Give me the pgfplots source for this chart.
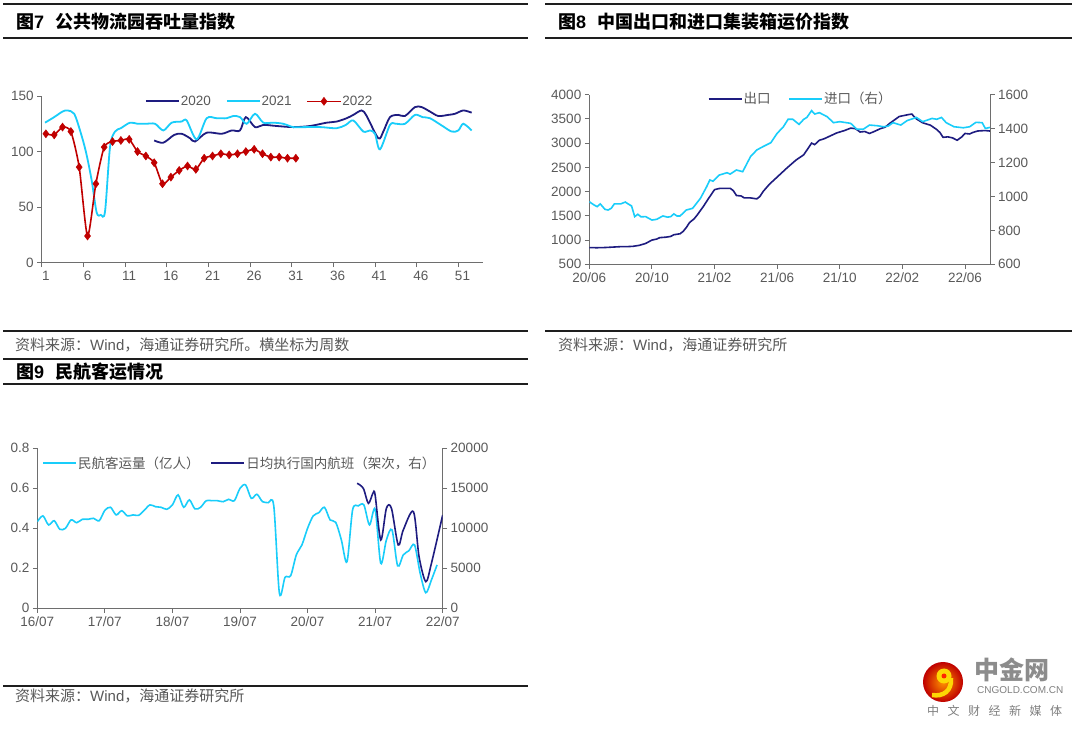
\documentclass[border=0pt]{standalone}
\usepackage{fontspec}
\setmainfont{Liberation Sans}
\newfontfamily\cjk{Noto Sans CJK SC}
\usepackage{pgfplots}
\pgfplotsset{compat=1.18}
\definecolor{navy}{RGB}{30,28,128}
\definecolor{cyanl}{RGB}{25,205,250}
\definecolor{dred}{RGB}{192,0,0}
\definecolor{tickgray}{RGB}{89,89,89}
\definecolor{axgray}{RGB}{110,110,110}
\definecolor{rulec}{RGB}{30,30,30}
\pgfplotsset{
  base/.style={scale only axis, anchor=south west,
    axis line style={-, draw=axgray, line width=0.9pt},
    tick style={draw=axgray, line width=0.9pt},
    major tick length=4.5pt, tick align=outside,
    ticklabel style={font=\fontsize{13.5}{15}\selectfont, text=tickgray},
    /pgf/number format/assume math mode=true,
    /pgf/number format/1000 sep={},
    scaled ticks=false,
    legend cell align=left,
    legend image code/.code={\draw[mark repeat=2,mark phase=2,##1] plot coordinates {(0pt,0pt) (16.5pt,0pt) (33pt,0pt)};},
  },
  leg/.style={legend style={draw=none, fill=none, inner sep=0pt, outer sep=0pt, legend columns=-1,
    nodes={inner sep=1pt, text=tickgray}}},
}
\begin{document}
\begin{tikzpicture}[x=1pt,y=1pt]
\path[fill=white,use as bounding box] (0,0) rectangle (1080,729);
% rules
\draw[rulec,line width=1.5pt] (3,725) -- (528,725);
\draw[rulec,line width=1.5pt] (545,725) -- (1072,725);
\draw[rulec,line width=1.5pt] (3,691) -- (528,691);
\draw[rulec,line width=1.5pt] (545,691) -- (1072,691);
\draw[rulec,line width=1.5pt] (3,398) -- (528,398);
\draw[rulec,line width=1.5pt] (545,398) -- (1072,398);
\draw[rulec,line width=1.5pt] (3,370) -- (528,370);
\draw[rulec,line width=1.5pt] (3,345) -- (528,345);
\draw[rulec,line width=1.5pt] (3,43) -- (528,43);
% titles
\node[anchor=west,inner sep=0pt] at (16,707.3) {\fontsize{18}{20}\selectfont\bfseries{\cjk 图}7\hspace{11pt}{\cjk 公共物流园吞吐量指数}};
\node[anchor=west,inner sep=0pt] at (558,707.3) {\fontsize{18}{20}\selectfont\bfseries{\cjk 图}8\hspace{11pt}{\cjk 中国出口和进口集装箱运价指数}};
\node[anchor=west,inner sep=0pt] at (16,357) {\fontsize{18}{20}\selectfont\bfseries{\cjk 图}9\hspace{11pt}{\cjk 民航客运情况}};
% sources
\node[anchor=west,inner sep=0pt,text=tickgray] at (15,384) {\fontsize{15}{17}\selectfont{\cjk 资料来源：}Wind{\cjk ，海通证券研究所。横坐标为周数}};
\node[anchor=west,inner sep=0pt,text=tickgray] at (558,384) {\fontsize{15}{17}\selectfont{\cjk 资料来源：}Wind{\cjk ，海通证券研究所}};
\node[anchor=west,inner sep=0pt,text=tickgray] at (15,33) {\fontsize{15}{17}\selectfont{\cjk 资料来源：}Wind{\cjk ，海通证券研究所}};
% logo
\shade[inner color=orange!85!yellow, outer color=red!75!black] (943,47) circle (20);
\fill[yellow!75!orange] (944,53) circle (7.5);
\draw[line width=4.5pt, yellow!75!orange] (951,51) .. controls (952,38) and (943,32) .. (932,34);
\fill[red!70!orange] (944,53) circle (2.5);
\node[anchor=west,inner sep=0pt,text=black!45] at (974,59) {\fontsize{25}{27}\selectfont\bfseries\cjk 中金网};
\node[anchor=west,inner sep=0pt,text=black!50] at (977,39) {\fontsize{10}{12}\selectfont CNGOLD.COM.CN};
\node[anchor=west,inner sep=0pt,text=black!50] at (927,18) {\fontsize{12}{14}\selectfont\cjk 中\hspace{8.5pt}文\hspace{8.5pt}财\hspace{8.5pt}经\hspace{8.5pt}新\hspace{8.5pt}媒\hspace{8.5pt}体};

% ===== Chart 7 =====
\begin{axis}[base, leg, at={(41.7pt,466.3pt)}, width=441.6pt, height=166.7pt,
  xmin=0.5, xmax=53.5, ymin=0, ymax=150,
  axis x line*=bottom, axis y line*=left,
  xtick={0.5,5.5,...,50.5}, xticklabels={1,6,11,16,21,26,31,36,41,46,51},
  xticklabel style={xshift=4.2pt},
  ytick={0,50,100,150},
  legend style={at={(0.234,0.968)}, anchor=west, font=\fontsize{13.5}{15}\selectfont,
    /tikz/every even column/.append style={column sep=14pt}},
]
\addplot[navy, line width=1.8pt, smooth, tension=0.5] coordinates {
(14,110)(15.1,108)(16.4,115)(17.3,116)(18.3,112)(18.9,109)(20.3,117)(22.1,116)(23.3,119)(24.3,119)(25.0,131)(26.1,122)(27.1,124)(28.7,123)(30.7,122)(32.7,123)(34.7,126)(35.9,127)(37.1,130)(37.9,133)(38.9,137)(39.5,132)(40.9,112)(41.5,118)(42.3,131)(43.3,133)(44.1,132)(45.3,140)(46.1,140)(47.1,136)(48.1,132)(49.3,133)(50.1,134)(51.1,137)(52.1,135)};
\addlegendentry{2020}
\addplot[cyanl, line width=1.8pt, smooth, tension=0.5] coordinates {
(0.9,126)(2,131)(3,136)(3.6,137)(4.4,134)(5.1,119)(5.8,100)(6.5,74)(7.1,45)(7.6,43)(8.1,46)(8.7,104)(9.3,118)(10,121)(11.1,126)(12,125)(13,125)(14.1,125)(15.1,119)(16.1,126)(17.3,127)(17.9,128)(19.1,111)(20.3,130)(21.5,130)(22.7,130)(23.5,132)(24.3,131)(25.1,125)(26.1,134)(27.1,126)(28.3,126)(29.5,125)(30.7,122)(32,122)(34,122)(35.9,121)(37,124)(37.9,128)(39.1,118)(39.9,119)(40.5,116)(41.1,102)(42.3,124)(43,125)(44.1,125)(45.3,133)(46.2,131)(47.1,130)(48.4,124)(49.7,118)(50.5,119)(51.1,125)(52.1,119)};
\addlegendentry{2021}
\addplot[dred, line width=1.6pt, smooth, tension=0.4, mark=diamond*, mark size=4pt, mark options={fill=dred, draw=dred, line width=0.5pt}] coordinates {
(1,116)(2,115)(3,122)(4,118)(5,86)(6,24)(7,71)(8,104)(9,109)(10,110)(11,111)(12,100)(13,96)(14,90)(15,71)(16,77)(17,83)(18,87)(19,84)(20,94)(21,96)(22,98)(23,97)(24,98)(25,100)(26,102)(27,98)(28,95)(29,95)(30,94)(31,94)};
\addlegendentry{2022}
\end{axis}

% ===== Chart 8 =====
\begin{axis}[base, at={(589.3pt,464.7pt)}, width=400.7pt, height=169.6pt,
  xmin=0, xmax=25.6, ymin=500, ymax=4000,
  axis x line*=bottom, axis y line*=left,
  xtick={0,4,...,24}, xticklabels={20/06,20/10,21/02,21/06,21/10,22/02,22/06},
  ytick={500,1000,...,4000},
]
\addplot[navy, line width=1.6pt] coordinates {
(0,844)(0.5,842)(1,846)(1.5,855)(2,864)(2.5,866)(2.8,871)(3.2,892)(3.6,930)(4,1000)(4.3,1020)(4.5,1050)(4.9,1060)(5.2,1075)(5.4,1110)(5.8,1130)(6,1180)(6.2,1260)(6.4,1360)(6.7,1440)(6.9,1520)(7.3,1700)(7.6,1850)(8.0,2040)(8.3,2065)(8.7,2068)(9,2068)(9.2,2020)(9.4,1920)(9.7,1910)(9.9,1870)(10.3,1870)(10.7,1850)(10.9,1900)(11.1,2000)(11.5,2150)(12,2300)(12.6,2480)(13.2,2650)(13.7,2760)(14.2,3000)(14.4,2970)(14.7,3060)(15,3090)(15.4,3150)(15.8,3210)(16,3230)(16.3,3260)(16.7,3310)(17,3300)(17.3,3230)(17.6,3240)(17.9,3200)(18.2,3240)(18.6,3300)(18.9,3330)(19.2,3410)(19.5,3480)(19.8,3550)(20.1,3570)(20.4,3590)(20.6,3600)(20.9,3500)(21.3,3420)(21.6,3390)(21.8,3370)(22.2,3280)(22.4,3220)(22.6,3120)(22.9,3130)(23.2,3110)(23.5,3060)(23.8,3130)(24,3200)(24.3,3190)(24.5,3220)(24.8,3250)(25,3255)(25.3,3260)(25.6,3250)};
\end{axis}
\begin{axis}[base, leg, at={(589.3pt,464.7pt)}, width=400.7pt, height=169.6pt,
  xmin=0, xmax=25.6, ymin=600, ymax=1600,
  axis x line=none, axis y line*=right,
  ytick={600,800,...,1600},
  legend style={at={(0.296,0.975)}, anchor=west, font=\fontsize{13.5}{15}\selectfont\cjk,
    /tikz/every even column/.append style={column sep=17pt}},
]
\addlegendimage{navy, line width=1.6pt}
\addlegendentry{出口}
\addplot[cyanl, line width=1.6pt] coordinates {
(0,969)(0.3,950)(0.5,940)(0.7,956)(1,924)(1.2,920)(1.4,930)(1.6,956)(2,956)(2.3,967)(2.5,955)(2.7,944)(2.9,881)(3.1,895)(3.3,880)(3.6,881)(4,861)(4.3,865)(4.7,885)(5,878)(5.2,881)(5.4,897)(5.6,885)(5.8,885)(6.2,920)(6.6,930)(7.1,989)(7.5,1058)(7.7,1097)(7.9,1090)(8.3,1126)(8.8,1140)(9,1132)(9.4,1156)(9.8,1146)(10.3,1235)(10.7,1274)(11.1,1294)(11.6,1317)(12,1372)(12.4,1411)(12.7,1455)(13,1455)(13.4,1425)(13.7,1455)(13.9,1466)(14.2,1506)(14.4,1486)(14.7,1494)(15.2,1470)(15.6,1435)(16,1441)(16.7,1431)(17.1,1396)(17.5,1396)(17.9,1421)(18.4,1417)(18.8,1411)(19.1,1415)(19.4,1435)(19.9,1421)(20.3,1447)(20.9,1466)(21.3,1441)(21.9,1460)(22.2,1455)(22.5,1466)(22.8,1435)(23.3,1411)(23.9,1405)(24.3,1411)(24.7,1437)(25.1,1435)(25.3,1401)(25.6,1407)};
\addlegendentry{进口（右）}
\end{axis}

% ===== Chart 9 =====
\begin{axis}[base, at={(37.3pt,120.7pt)}, width=405.4pt, height=160pt,
  xmin=0, xmax=72, ymin=0, ymax=0.8,
  axis x line*=bottom, axis y line*=left,
  xtick={0,12,...,72}, xticklabels={16/07,17/07,18/07,19/07,20/07,21/07,22/07},
  ytick={0,0.2,0.4,0.6,0.8}, yticklabels={0,0.2,0.4,0.6,0.8},
]
\addplot[cyanl, line width=1.6pt, smooth, tension=0.5] coordinates {
(0,.433)(1,.462)(2,.417)(3,.438)(4,.395)(5,.40)(6,.442)(7,.428)(8,.445)(9,.445)(10,.45)(11,.438)(12,.49)(13,.505)(14,.467)(15,.488)(16,.462)(17,.467)(18,.465)(19,.49)(20,.517)(21,.508)(22,.505)(23,.495)(24,.517)(25,.567)(26,.505)(27,.542)(28,.497)(29,.505)(30,.538)(31,.538)(32,.538)(33,.533)(34,.545)(35,.538)(36,.60)(37,.617)(38,.55)(39,.57)(40,.533)(41,.528)(42,.512)(43,.075)(44,.155)(45,.163)(46,.267)(47,.317)(48,.40)(49,.462)(50,.478)(51,.505)(52,.442)(53,.43)(54,.342)(55,.233)(56,.492)(57,.512)(58,.517)(59,.417)(60,.495)(61,.225)(62,.342)(63,.392)(64,.212)(65,.267)(66,.288)(67,.317)(68,.175)(69,.078)(70,.142)(71,.217)};
\end{axis}
\begin{axis}[base, leg, at={(37.3pt,120.7pt)}, width=405.4pt, height=160pt,
  xmin=0, xmax=72, ymin=0, ymax=20000,
  axis x line=none, axis y line*=right,
  ytick={0,5000,...,20000},
  legend style={at={(0.013,0.908)}, anchor=west, font=\fontsize{13.5}{15}\selectfont\cjk,
    /tikz/every even column/.append style={column sep=10pt}},
]
\addlegendimage{cyanl, line width=1.6pt}
\addlegendentry{民航客运量（亿人）}
\addplot[navy, line width=1.6pt, smooth, tension=0.5] coordinates {
(56.8,15625)(57.9,15000)(58.8,13125)(59.6,14375)(60,14167)(61,8540)(62,12500)(62.9,12500)(64.1,7917)(65,9792)(66.8,12083)(67.8,6458)(69,3333)(70,5625)(72,11667)};
\addlegendentry{日均执行国内航班（架次，右）}
\end{axis}
\end{tikzpicture}
\end{document}
